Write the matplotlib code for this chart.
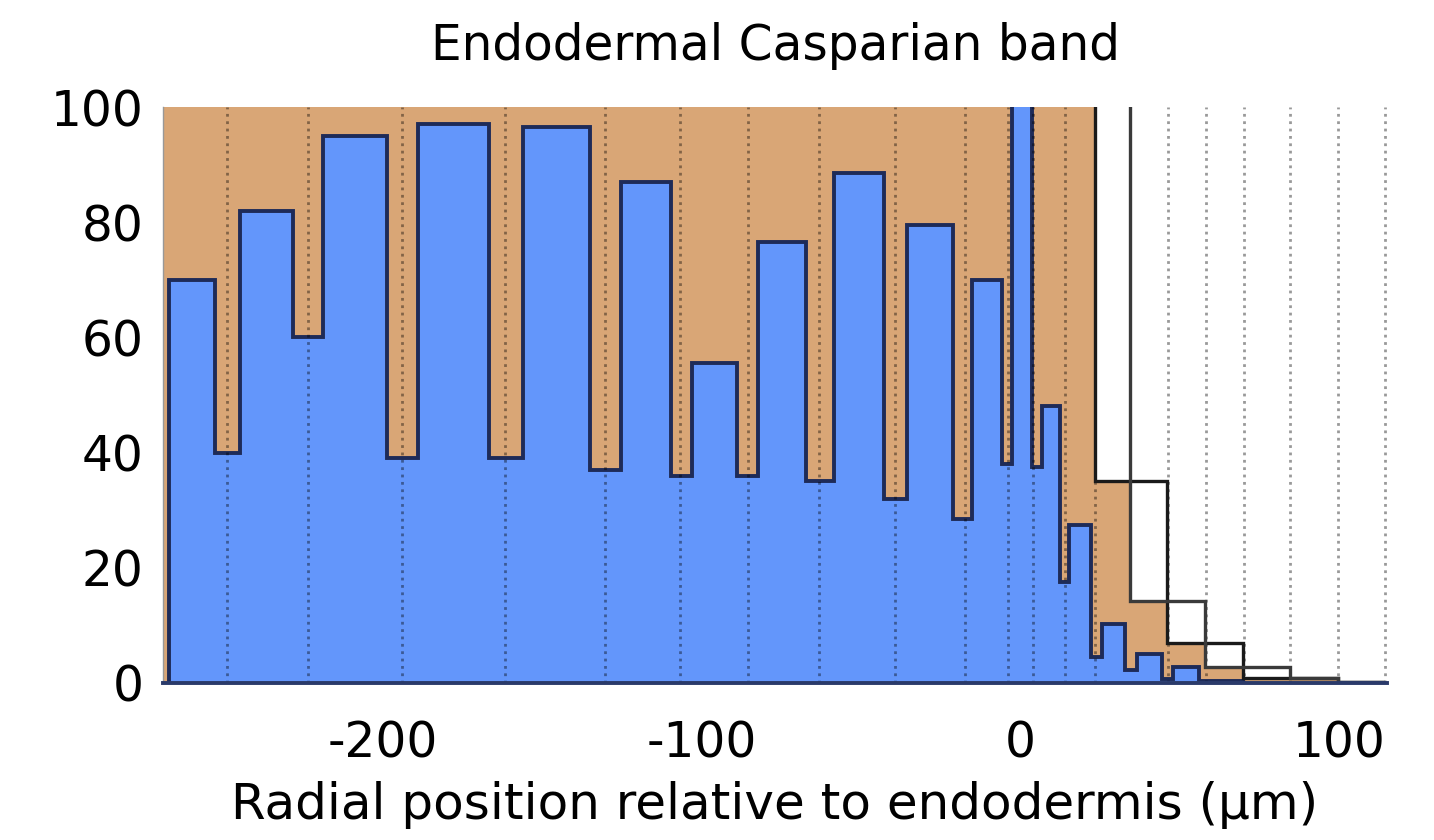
import numpy as np
import matplotlib
matplotlib.use("Agg")
import matplotlib.pyplot as plt

# blue step profile (cell bands), edges in um, values in %
blue_edges = [-266.9, -252.5, -244.7, -228.1, -218.7, -198.6, -188.9, -166.6,
              -156.0, -135.0, -125.2, -109.6, -103.0, -88.9, -82.3, -67.2,
              -58.5, -42.8, -35.6, -21.2, -15.2, -5.8, -2.7, 3.6, 6.7, 12.4,
              15.2, 22.1, 25.5, 32.8, 36.5, 44.4, 47.8, 56.0, 69.7]
blue_vals = [70, 40, 82, 60, 95, 39, 97, 39, 96.5, 37, 87, 36, 55.5, 36,
             76.5, 35, 88.5, 32, 79.5, 28.5, 70, 38, 110, 37.5, 48, 17.5,
             27.5, 4.5, 10.3, 2.2, 5, 0.6, 2.8, 0.3]

# tan background profile
tan_edges = [-268.8, 23.4, 34.3, 45.9, 57.8, 69.7, 99.5]
tan_vals = [100, 35, 14.2, 6.9, 2.8, 0.8]

# two black outline profiles (first bin is off scale)
lineA_edges = [-280, 23.4, 45.9, 69.7, 99.5, 114.3]
lineA_vals = [110, 35, 6.9, 0.8, 0.2]
lineB_edges = [-280, 34.3, 57.8, 84.5, 99.5, 114.3]
lineB_vals = [110, 14.2, 2.8, 0.8, 0.1]

# dotted cell wall positions
walls = [-248.6, -223.2, -193.8, -161.6, -130.3, -106.7, -85.4, -63.2, -39.3,
         -17.4, -3.9, 3.9, 13.9, 23.4, 46.2, 58.1, 70.0, 84.5, 99.5, 114.3]

xticks = [-200, -100, 0, 100]
yticks = [0, 20, 40, 60, 80, 100]

plt.rcParams['font.family'] = ['DejaVu Sans']
plt.rcParams['axes.unicode_minus'] = False
fig = plt.figure(figsize=(14.34, 8.4), dpi=100)
ax = fig.add_axes([0.1137, 0.187, 0.8535, 0.6856])

ax.stairs(tan_vals, tan_edges, fill=True, color='#D9A676', zorder=1)
ax.stairs(blue_vals, blue_edges, fill=True, color='#6396FB', zorder=2)
ax.stairs(blue_vals, blue_edges, fill=False, color='#1E2B58', lw=2.8, zorder=3)
ax.vlines(walls, 0, 100, colors='k', linestyles=':', lw=2, alpha=0.4, zorder=4)
ax.stairs(lineA_vals, lineA_edges, fill=False, baseline=None, color='#1a1a1a', lw=2.4, zorder=5)
ax.stairs(lineB_vals, lineB_edges, fill=False, baseline=None, color='#3a3a3a', lw=2.4, zorder=5)

ax.set_xlim(-268.8, 114.9)
ax.set_ylim(0, 100)
ax.set_xticks(xticks)
ax.set_yticks(yticks)
ax.tick_params(length=0, labelsize=35)
ax.tick_params(axis='x', pad=26)
ax.tick_params(axis='y', pad=14)

for s in ['top', 'right']:
    ax.spines[s].set_visible(False)
ax.spines['left'].set_color('#999999')
ax.spines['left'].set_linewidth(1)
ax.spines['bottom'].set_color('#2a3a6a')
ax.spines['bottom'].set_linewidth(2.8)
ax.spines['bottom'].set_zorder(6)

ax.set_title("Endodermal Casparian band", fontsize=35, pad=34)
ax.set_xlabel("Radial position relative to endodermis (µm)", fontsize=36, labelpad=10)

fig.savefig("out.png", dpi=100)
